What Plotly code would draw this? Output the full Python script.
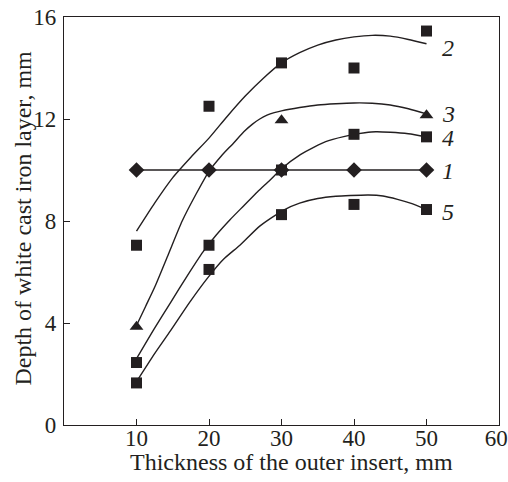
import plotly.graph_objects as go

INK = "#231f20"
FONT = "Liberation Serif"

# measured points
x_pts = [10, 20, 30, 40, 50]
s1_y = [10, 10, 10, 10, 10]
s2_y = [7.05, 12.5, 14.2, 14.0, 15.45]
s3_x = [10, 30, 50]
s3_y = [3.85, 11.95, 12.15]
s4_y = [2.45, 7.05, 10.0, 11.4, 11.3]
s5_y = [1.65, 6.1, 8.25, 8.65, 8.45]

# fitted trend curves
c2_x = [10, 12.5, 15, 17.5, 20, 22.5, 25, 27.5, 30, 32.5, 35, 37.5, 40, 42.5, 45, 47.5, 50]
c2_y = [7.6, 8.7, 9.7, 10.5, 11.25, 12.1, 12.9, 13.6, 14.2, 14.6, 14.9, 15.1, 15.22, 15.28, 15.25, 15.12, 14.95]
c3_x = [10, 11.25, 12.5, 14.4, 16.3, 18.2, 20, 21.7, 23.4, 24.8, 26, 27, 28, 29, 30, 32.5, 35, 37.5, 40, 42.5, 45, 47.5, 50]
c3_y = [3.9, 4.65, 5.4, 6.7, 8.0, 9.05, 9.95, 10.55, 11.06, 11.5, 11.8, 12.0, 12.15, 12.25, 12.32, 12.45, 12.55, 12.6, 12.63, 12.62, 12.55, 12.4, 12.2]
c4_x = [10, 12.5, 14.7, 17, 19.2, 21, 22.9, 24.8, 26.7, 28.4, 30, 32.6, 34.5, 36.5, 39.5, 41.5, 43, 45, 47.5, 50]
c4_y = [2.6, 3.8, 4.8, 5.85, 6.8, 7.45, 8.05, 8.6, 9.15, 9.6, 10.05, 10.6, 10.9, 11.15, 11.37, 11.46, 11.5, 11.48, 11.42, 11.3]
c5_x = [10, 12.5, 14.7, 17.3, 19.9, 22, 24.3, 27, 30.3, 32.5, 35, 37.5, 39.5, 42, 44, 46, 48, 50]
c5_y = [1.7, 2.8, 3.7, 4.8, 5.8, 6.5, 7.06, 7.8, 8.43, 8.7, 8.88, 8.97, 9.0, 9.02, 8.98, 8.85, 8.68, 8.45]

labels = ["2", "3", "4", "1", "5"]
label_y = [14.8, 12.2, 11.25, 9.95, 8.35]

x_title = "Thickness of the outer insert, mm"
y_title = "Depth of white cast iron layer, mm"
x_ticks = [10, 20, 30, 40, 50, 60]
x_ticktext = ["10", "20", "30", "40", "50", "60\u00a0"]
y_ticks = [0, 4, 8, 12, 16]

fig = go.Figure()
LW = 1.4

for cx, cy in [(c2_x, c2_y), (c3_x, c3_y), (c4_x, c4_y), (c5_x, c5_y)]:
    fig.add_trace(go.Scatter(x=cx, y=cy, mode="lines",
                             line=dict(color=INK, width=LW, shape="spline", smoothing=0.6),
                             hoverinfo="skip"))

fig.add_trace(go.Scatter(x=x_pts, y=s1_y, mode="lines+markers",
                         line=dict(color=INK, width=LW),
                         marker=dict(symbol="diamond", size=12, color=INK)))
for yy in [s2_y, s4_y, s5_y]:
    fig.add_trace(go.Scatter(x=x_pts, y=yy, mode="markers",
                             marker=dict(symbol="square", size=11, color=INK)))
fig.add_trace(go.Scatter(x=s3_x, y=s3_y, mode="markers",
                         marker=dict(symbol="triangle-up", size=12, color=INK)))

for lab, ly in zip(labels, label_y):
    fig.add_annotation(x=51.9, y=ly, text="<i>" + lab + "</i>", showarrow=False,
                       xanchor="left", yanchor="middle",
                       font=dict(family=FONT, size=24, color=INK))

# axis titles as annotations for exact placement
fig.add_annotation(xref="paper", yref="paper", x=0.523, y=0, yshift=-37,
                   text=x_title, showarrow=False, xanchor="center", yanchor="middle",
                   font=dict(family=FONT, size=24, color=INK))
fig.add_annotation(xref="paper", yref="paper", x=0, y=0.506, xshift=-41,
                   text=y_title, showarrow=False, textangle=-90,
                   xanchor="center", yanchor="middle",
                   font=dict(family=FONT, size=24, color=INK))

axis_common = dict(showline=True, linecolor=INK, linewidth=1.3, mirror=True,
                   ticks="inside", ticklen=6, tickcolor=INK, tickwidth=1.2,
                   showgrid=False, zeroline=False, automargin=False,
                   ticklabeloverflow="allow",
                   tickfont=dict(family=FONT, size=23, color=INK))

fig.update_layout(
    width=508, height=482,
    margin=dict(l=64, r=9, t=17, b=57),
    paper_bgcolor="white", plot_bgcolor="white",
    showlegend=False,
    xaxis=dict(range=[0, 60], tickvals=x_ticks, ticktext=x_ticktext, ticklabelstandoff=-8,
               **axis_common),
    yaxis=dict(range=[0, 16], tickvals=y_ticks, ticklabelstandoff=2,
               **axis_common),
)

# remove the default 8px page margin so the figure fills the window exactly
fig.write_html("out.html", config={"displayModeBar": False},
               post_script="document.body.style.margin='0';document.body.style.overflow='hidden';")
